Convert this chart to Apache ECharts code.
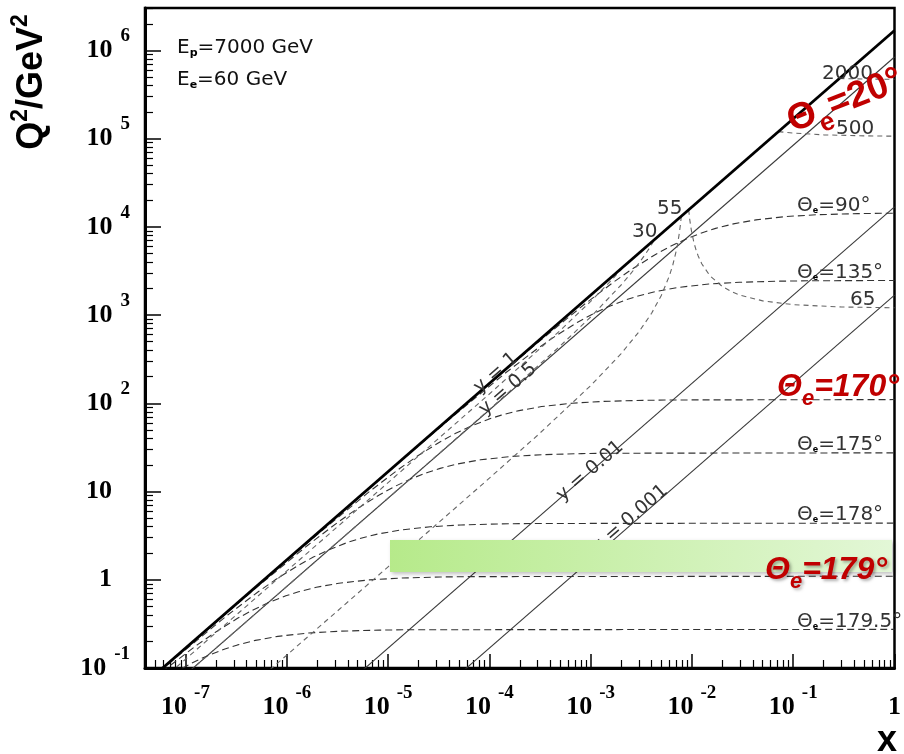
<!DOCTYPE html>
<html><head><meta charset="utf-8">
<script src="https://cdn.jsdelivr.net/npm/echarts@6/dist/echarts.min.js"></script>
<style>html,body{margin:0;padding:0;background:#fff}#c{width:904px;height:754px}</style>
</head><body><div id="c"></div>
<script>
// ---- axis ranges (log10 units) and tick labels ----
const xLogRange = [-7.4, 0];
const yLogRange = [-1, 6.48];
const xMajorExps = [-7, -6, -5, -4, -3, -2, -1, 0];
const yMajorExps = [-1, 0, 1, 2, 3, 4, 5, 6];
const minorMultipliers = [2, 3, 4, 5, 6, 7, 8, 9];

// ---- constant inelasticity lines  [x, Q2] ----
const lineY1    = [[5.0e-8, 0.084], [1, 1.68e6]];
const lineY05   = [[1.0e-7, 0.084], [1, 8.4e5]];
const lineY001  = [[5.0e-6, 0.084], [1, 1.68e4]];
const lineY0001 = [[5.0e-5, 0.084], [1, 1680]];

// ---- constant electron angle curves  [x, Q2] ----
const theta1795 = [[4.896e-8,0.0633],[8.16e-8,0.0914],[1.142e-7,0.1129],[1.632e-7,0.1371],[2.448e-7,0.1645],[3.264e-7,0.1827],[4.896e-7,0.2056],[8.16e-7,0.2284],[1.632e-6,0.2492],[3.264e-6,0.2610],[8.16e-6,0.2687],[1.632e-5,0.2714],[1,0.2741]];
const theta179  = [[3.264e-8,0.0522],[6.527e-8,0.0997],[1.305e-7,0.1828],[1.958e-7,0.2531],[3.264e-7,0.3655],[4.569e-7,0.4515],[6.527e-7,0.5483],[9.79e-7,0.658],[1.305e-6,0.7311],[1.958e-6,0.8225],[3.264e-6,0.9138],[6.527e-6,0.9969],[1.305e-5,1.0444],[3.264e-5,1.0751],[6.527e-5,1.0857],[1,1.0966]];
const theta178  = [[2.611e-8,0.0434],[7.833e-8,0.1278],[2.611e-7,0.3988],[5.222e-7,0.7312],[7.833e-7,1.0124],[1.306e-6,1.4623],[1.828e-6,1.8064],[2.611e-6,2.1935],[3.917e-6,2.6322],[5.222e-6,2.9247],[7.833e-6,3.2903],[1.306e-5,3.6558],[2.611e-5,3.9882],[5.222e-5,4.1781],[1.306e-4,4.3010],[2.611e-4,4.3436],[1,4.387]];
const theta175  = [[4.902e-8,0.0821],[1.634e-7,0.2718],[4.902e-7,0.7996],[1.634e-6,2.4955],[3.268e-6,4.575],[4.902e-6,6.335],[8.17e-6,9.15],[1.144e-5,11.303],[1.634e-5,13.725],[2.451e-5,16.47],[3.268e-5,18.30],[4.902e-5,20.59],[8.17e-5,22.875],[1.634e-4,24.955],[3.268e-4,26.143],[8.17e-4,26.912],[1.634e-3,27.178],[1,27.45]];
const theta170  = [[4.99e-8,0.0837],[6.56e-7,1.091],[1.968e-6,3.210],[6.56e-6,10.018],[1.312e-5,18.367],[1.968e-5,25.43],[3.28e-5,36.733],[4.592e-5,45.38],[6.56e-5,55.1],[9.84e-5,66.12],[1.312e-4,73.47],[1.968e-4,82.65],[3.28e-4,91.83],[6.56e-4,100.18],[1.312e-3,104.95],[3.28e-3,108.04],[6.56e-3,109.11],[1,110.2]];
const theta135  = [[5.0e-8,0.084],[1.4706e-6,2.468],[1.4706e-5,24.46],[4.412e-5,71.96],[1.4706e-4,224.6],[2.941e-4,411.8],[4.412e-4,570.1],[7.353e-4,823.5],[1.0294e-3,1017.3],[1.4706e-3,1235.3],[2.206e-3,1482.4],[2.941e-3,1647.1],[4.412e-3,1853],[7.353e-3,2058.8],[1.4706e-2,2246],[2.941e-2,2353],[7.353e-2,2422],[0.14706,2446],[1,2467]];
const theta90   = [[5.0e-8,0.084],[8.571e-6,14.39],[8.571e-5,142.6],[2.571e-4,419.4],[8.571e-4,1309],[1.714e-3,2400],[2.571e-3,3323],[4.286e-3,4800],[6.0e-3,5929],[8.571e-3,7200],[1.286e-2,8640],[1.714e-2,9600],[2.571e-2,10800],[4.286e-2,12000],[8.571e-2,13091],[0.1714,13714],[0.4286,14118],[1,14278]];

// ---- constant scattered-electron energy curves  [x, Q2] ----
const energy2000 = [[0.2857,4.8e5],[0.35,4.773e5],[0.5,4.737e5],[0.7,4.714e5],[1,4.696e5]];
const energy500  = [[0.07143,1.2e5],[0.08,1.183e5],[0.1,1.155e5],[0.2,1.103e5],[0.5,1.074e5],[1,1.065e5]];
const energy65   = [[0.009286,15600],[0.0095,12280],[0.0097,10310],[0.01,8400],[0.0105,6533],[0.011,5435],[0.0115,4712],[0.0125,3818],[0.015,2800],[0.02,2100],[0.025,1826],[0.03,1680],[0.05,1448],[0.1,1312],[0.3,1234],[1,1210]];
const energy55   = [[5e-7,0.070],[1e-6,0.14],[1e-5,1.402],[1e-4,14.17],[3e-4,43.52],[1e-3,158.5],[2e-3,365.2],[3e-3,646.2],[4e-3,1050],[5e-3,1680],[6e-3,2800],[6.5e-3,3766],[7e-3,5345],[7.25e-3,6584],[7.5e-3,8400],[7.7e-3,10600],[7.857e-3,13200]];
const energy30   = [[5e-8,0.042],[1e-7,0.084],[1e-6,0.84],[1e-5,8.41],[1e-4,85.0],[5e-4,446],[1e-3,951],[2e-3,2191],[2.5e-3,2965],[3e-3,3877],[3.5e-3,4969],[3.8e-3,5734],[4e-3,6300],[4.15e-3,6758],[4.286e-3,7200]];
const energy15   = [[7e-8,0.088],[1e-6,1.26],[1e-5,12.61],[1e-4,127.5],[5e-4,669],[1e-3,1426],[1.5e-3,2291],[1.8e-3,2871],[2e-3,3287],[2.1e-3,3505],[2.143e-3,3600]];

// ---------------------------------------------------------------
const L = Math.log10;
const toLog = arr => arr.map(p => [L(p[0]), L(p[1])]);
function minorTicks(range) {
  const out = [];
  for (let n = Math.floor(range[0]); n <= Math.ceil(range[1]); n++) {
    minorMultipliers.forEach(k => { const v = n + L(k); if (v >= range[0] - 1e-9 && v <= range[1] + 1e-9) out.push(v); });
  }
  return out;
}

const solidThick = {color:'#000', width:2.8, type:'solid'};
const solidThin  = {color:'#3a3a3a', width:1.1, type:'solid'};
const dashTheta  = {color:'#333', width:1.1, type:[7,4]};
const dashEnergy = {color:'#666', width:1.1, type:[5,4]};

const curveDefs = [
  [lineY0001, solidThin], [lineY001, solidThin], [lineY05, solidThin],
  [theta1795, dashTheta], [theta179, dashTheta], [theta178, dashTheta], [theta175, dashTheta],
  [theta170, dashTheta], [theta135, dashTheta], [theta90, dashTheta],
  [energy2000, dashEnergy], [energy500, dashEnergy], [energy65, dashEnergy],
  [energy55, dashEnergy], [energy30, dashEnergy], [energy15, dashEnergy],
  [lineY1, solidThick]
];
const series = curveDefs.map(([d, st]) => ({
  type: 'line', data: toLog(d), showSymbol: false, symbol: 'none', silent: true,
  smooth: false, clip: true, lineStyle: st, z: 2
}));

const serif = 'Liberation Serif, Times New Roman, serif';
const richX = {
  b: {fontFamily: serif, fontWeight: 'bold', fontSize: 26, color: '#000'},
  s: {fontFamily: serif, fontWeight: 'bold', fontSize: 19, color: '#000', padding: [0, 0, 28, 7]},
  p: {fontFamily: serif, fontWeight: 'bold', fontSize: 26, color: '#000', padding: [10.5, 0, 10.5, 0]}
};
const richY = {
  b: {fontFamily: serif, fontWeight: 'bold', fontSize: 26, color: '#000'},
  s: {fontFamily: serif, fontWeight: 'bold', fontSize: 19, color: '#000', padding: [0, 0, 28, 8]},
  bp: {fontFamily: serif, fontWeight: 'bold', fontSize: 26, color: '#000', padding: [0, 18, 0, 0]}
};
const xFmt = v => v === 0 ? '{p|1}' : '{b|10}{s|' + v + '}';
const yFmt = v => v === 0 ? '{bp|1}' : (v === 1 ? '{bp|10}' : '{b|10}{s|' + v + '}');

function axisPair(dim) {
  const range = dim === 'x' ? xLogRange : yLogRange;
  const majors = dim === 'x' ? xMajorExps : yMajorExps;
  const pos = dim === 'x' ? 'bottom' : 'left';
  return [{
    type: 'value', min: range[0], max: range[1], position: pos,
    axisLine: {show: true, onZero: false, lineStyle: {color: '#000', width: 3}},
    axisTick: {show: true, inside: true, length: dim === 'x' ? 14 : 16, customValues: majors, lineStyle: {color: '#000', width: 1.5}},
    axisLabel: {show: true, customValues: majors, formatter: dim === 'x' ? xFmt : yFmt,
      rich: dim === 'x' ? richX : richY, margin: dim === 'x' ? 16 : 15, showMinLabel: true, showMaxLabel: true},
    splitLine: {show: false}
  }, {
    type: 'value', min: range[0], max: range[1], position: pos,
    axisLine: {show: false, onZero: false},
    axisTick: {show: true, inside: true, length: 8, customValues: minorTicks(range), lineStyle: {color: '#000', width: 1.2}},
    axisLabel: {show: false}, splitLine: {show: false}
  }];
}

const sans = 'DejaVu Sans, Liberation Sans, sans-serif';
const grayFill = '#333';
function gray(x, y, text, extra) {
  return Object.assign({
    type: 'text', x: x, y: y, z: 50, silent: true,
    style: {text: text, font: '20px ' + sans, fill: grayFill, align: 'left', verticalAlign: 'middle',
      rich: {e: {fontSize: 8, fontWeight: 'bold', fill: '#000', padding: [10, 0, 0, 0], fontFamily: sans}}}
  }, extra || {});
}
function rotated(x, y, text) {
  return {type: 'text', x: x, y: y, z: 50, silent: true, rotation: 0.7144,
    style: {text: text, font: '19px ' + sans, fill: grayFill, align: 'center', verticalAlign: 'middle'}};
}
function red(x, y, text, opts) {
  const italic = opts.italic ? 'italic ' : '';
  const fs = opts.size || 32;
  return {type: 'text', x: x, y: y, z: 120, silent: true, rotation: opts.rotation || 0,
    style: {text: text, font: italic + 'bold ' + fs + 'px Liberation Sans, Arial, sans-serif', fill: '#c00000',
      align: opts.align || 'left', verticalAlign: 'middle',
      textShadowColor: opts.shadow ? 'rgba(0,0,0,0.3)' : 'transparent', textShadowBlur: opts.shadow ? 3 : 0,
      textShadowOffsetX: opts.shadow ? 2 : 0, textShadowOffsetY: opts.shadow ? 2 : 0,
      rich: {e: {fontSize: Math.round(fs * 0.69), fontWeight: 'bold', fontStyle: opts.italic ? 'italic' : 'normal', fill: '#c00000',
        fontFamily: 'Liberation Sans, Arial, sans-serif', padding: [Math.round(fs * 0.75), 0, 0, 0]}}}};
}

const graphics = [
  // beam energies
  {type: 'text', x: 177, y: 48, z: 50, silent: true, style: {text: 'E{s|p}=7000 GeV', font: '20px ' + sans, fill: '#111', verticalAlign: 'middle',
    rich: {s: {fontSize: 11, fontWeight: 'bold', fill: '#000', padding: [10, 0, 0, 0], fontFamily: sans}}}},
  {type: 'text', x: 177, y: 80, z: 50, silent: true, style: {text: 'E{s|e}=60 GeV', font: '20px ' + sans, fill: '#111', verticalAlign: 'middle',
    rich: {s: {fontSize: 11, fontWeight: 'bold', fill: '#000', padding: [10, 0, 0, 0], fontFamily: sans}}}},
  // curve labels
  gray(797, 206, 'Θ{e|e}=90°'), gray(797, 273, 'Θ{e|e}=135°'), gray(850, 300, '65'),
  gray(836, 129, '500'), gray(822, 74, '2000'), gray(657, 209, '55'), gray(632, 232, '30'),
  gray(797, 445, 'Θ{e|e}=175°'), gray(797, 515, 'Θ{e|e}=178°'), gray(797, 622, 'Θ{e|e}=179.5°'),
  rotated(496, 373, 'y = 1'), rotated(508, 389, 'y = 0.5'), rotated(590, 471, 'y = 0.01'), rotated(630, 519, 'y = 0.001'),
  // green band
  {type: 'rect', z: 100, silent: true, shape: {x: 390, y: 540, width: 502, height: 32},
    style: {fill: {type: 'linear', x: 0, y: 0, x2: 1, y2: 1, colorStops: [{offset: 0, color: '#b6ea8a'}, {offset: 1, color: '#e3f7d7'}]},
      shadowBlur: 4, shadowColor: 'rgba(0,0,0,0.25)', shadowOffsetX: 2, shadowOffsetY: 2}},
  // red annotations
  red(845, 101, 'Θ{e|e}=20°', {align: 'center', rotation: 0.37, size: 37}),
  red(777, 387, 'Θ{e|e}=170°', {italic: true}),
  red(765, 570, 'Θ{e|e}=179°', {italic: true, shadow: true}),
  // axis titles
  {type: 'text', x: 32, y: 82, rotation: Math.PI / 2, z: 50, silent: true,
    style: {text: 'Q{s|2}/GeV{s|2}', font: 'bold 36px Liberation Sans, Arial, sans-serif', fill: '#000', align: 'center', verticalAlign: 'middle',
      rich: {s: {fontSize: 23, fontWeight: 'bold', fill: '#000', fontFamily: 'Liberation Sans, Arial, sans-serif', padding: [0, 0, 22, 0]}}}},
  {type: 'text', x: 887, y: 741, z: 50, silent: true,
    style: {text: 'x', font: 'bold 36px Liberation Sans, Arial, sans-serif', fill: '#000', align: 'center', verticalAlign: 'middle'}}
];

const chart = echarts.init(document.getElementById('c'), null, {renderer: 'canvas'});
chart.setOption({
  animation: false,
  backgroundColor: '#fff',
  grid: {left: 145, right: 6, top: 8, bottom: 86, containLabel: false, show: true, borderColor: '#000', borderWidth: 2.5, backgroundColor: 'transparent'},
  xAxis: axisPair('x'),
  yAxis: axisPair('y'),
  series: series,
  graphic: graphics
});
</script></body></html>
